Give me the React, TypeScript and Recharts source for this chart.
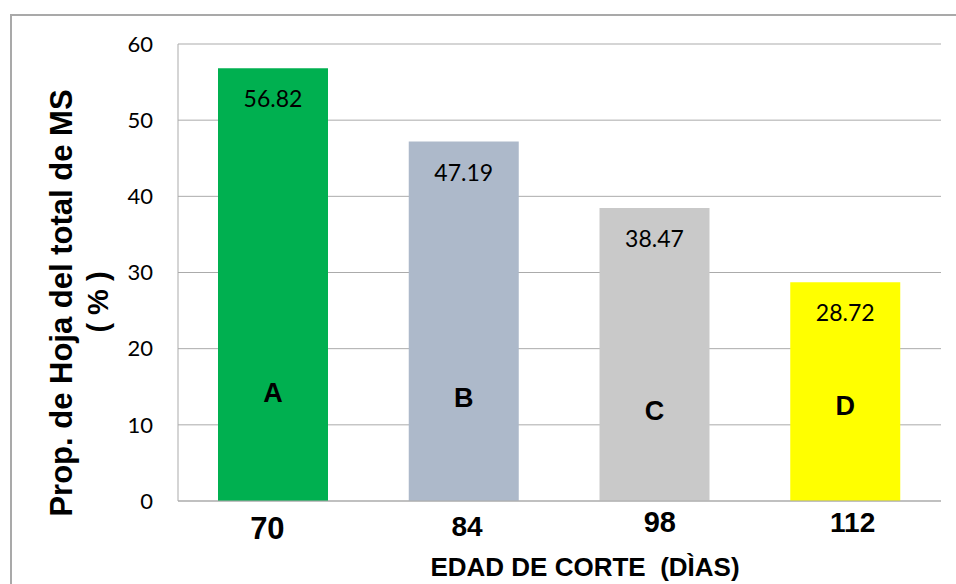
import { Bar, BarChart, CartesianGrid, Cell, LabelList, XAxis, YAxis } from "recharts";

const days = ["70", "84", "98", "112"];
const leafShare = [56.82, 47.19, 38.47, 28.72];
const groups = ["A", "B", "C", "D"];
// where the significance letter sits, in % units on the y axis
const groupLevel = [14.2, 13.5, 11.8, 12.5];
const yTicks = [0, 10, 20, 30, 40, 50, 60];

const barColors = ["#00B050", "#ADB9CA", "#C9C9C9", "#FFFF00"];
const dayFont = [31, 28, 29, 28];
const dayNudge = [
  { dx: -6, dy: 27 },
  { dx: 3, dy: 25 },
  { dx: 5, dy: 21 },
  { dx: 7, dy: 21 },
];

const data = days.map((d, i) => ({
  day: d,
  value: leafShare[i],
  group: groups[i],
}));

const ARIAL = "'Liberation Sans', Arial, sans-serif";
const CALI = "Lato, 'Open Sans', sans-serif";
const GRID = "#ABABAB";

function box(p: any) {
  const vb = p.viewBox && p.viewBox.width != null ? p.viewBox : p;
  return { x: Number(vb.x), y: Number(vb.y), width: Number(vb.width), height: Number(vb.height) };
}

function ValueLabel(p: any) {
  const { x, y, width } = box(p);
  return (
    <text
      x={x + width / 2}
      y={y + 30}
      textAnchor="middle"
      dominantBaseline="central"
      fontFamily={CALI}
      fontSize={23}
      fill="#000"
    >
      {Number(p.value).toFixed(2)}
    </text>
  );
}

function GroupLabel(p: any) {
  const { x, y, width, height } = box(p);
  const i = groups.indexOf(String(p.value));
  const v = leafShare[i];
  const py = y + height - (groupLevel[i] * height) / v;
  return (
    <text
      x={x + width / 2}
      y={py}
      textAnchor="middle"
      dominantBaseline="central"
      fontFamily={ARIAL}
      fontWeight="bold"
      fontSize={27}
      fill="#000"
    >
      {p.value}
    </text>
  );
}

function DayTick(p: any) {
  const i = days.indexOf(String(p.payload.value));
  const n = dayNudge[i] || { dx: 0, dy: 24 };
  return (
    <text
      x={p.x + n.dx}
      y={p.y + n.dy}
      textAnchor="middle"
      dominantBaseline="central"
      fontFamily={ARIAL}
      fontWeight="bold"
      fontSize={dayFont[i] || 28}
      fill="#000"
    >
      {p.payload.value}
    </text>
  );
}

export default function App() {
  return (
    <div
      style={{
        position: "absolute",
        left: 0,
        top: 0,
        width: 956,
        height: 584,
        overflow: "hidden",
        background: "#fff",
      }}
    >
      <div
        style={{
          position: "absolute",
          left: 10,
          top: 14,
          width: 980,
          height: 620,
          border: "2px solid #A9A9A9",
        }}
      />
      <div style={{ position: "absolute", left: 0, top: 0 }}>
        <BarChart
          width={956}
          height={584}
          data={data}
          margin={{ top: 44, right: 15, bottom: 0, left: 98 }}
        >
          <CartesianGrid stroke={GRID} vertical={false} />
          <XAxis
            dataKey="day"
            height={83}
            axisLine={{ stroke: GRID }}
            tickLine={false}
            tickSize={0}
            tickMargin={0}
            tick={<DayTick />}
            label={{
              content: () => (
                <text
                  x={585}
                  y={567}
                  textAnchor="middle"
                  dominantBaseline="central"
                  fontFamily={ARIAL}
                  fontWeight="bold"
                  fontSize={26}
                  fill="#000"
                >
                  EDAD DE CORTE{"\u00a0\u00a0"}(DÌAS)
                </text>
              ),
            }}
          />
          <YAxis
            width={80}
            domain={[0, 60]}
            ticks={yTicks}
            axisLine={{ stroke: GRID }}
            tickLine={false}
            tickSize={0}
            tickMargin={25}
            tick={{ fontFamily: CALI, fontSize: 22, fill: "#000" }}
            label={{
              content: () => (
                <g fontFamily={ARIAL} fontWeight="bold" fill="#000">
                  <text
                    x={61}
                    y={303}
                    transform="rotate(-90 61 303)"
                    textAnchor="middle"
                    dominantBaseline="central"
                    fontSize={31}
                  >
                    Prop. de Hoja del total de MS
                  </text>
                  <text
                    x={98}
                    y={302}
                    transform="rotate(-90 98 302)"
                    textAnchor="middle"
                    dominantBaseline="central"
                    fontSize={29}
                  >
                    ( % )
                  </text>
                </g>
              ),
            }}
          />
          <Bar dataKey="value" barSize={110} isAnimationActive={false}>
            {data.map((d, i) => (
              <Cell key={d.day} fill={barColors[i]} />
            ))}
            <LabelList dataKey="value" content={<ValueLabel />} />
            <LabelList dataKey="group" content={<GroupLabel />} />
          </Bar>
        </BarChart>
      </div>
    </div>
  );
}
